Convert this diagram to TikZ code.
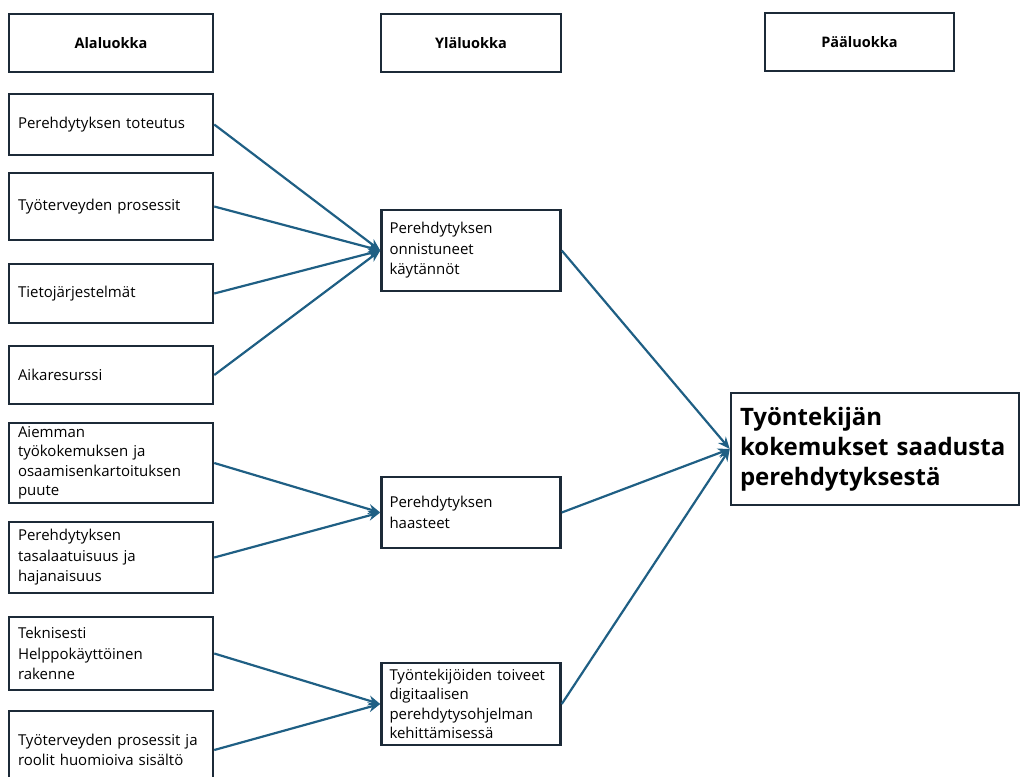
\documentclass[tikz,border=0pt]{standalone}
\usepackage{fontspec}
\setmainfont{Open Sans}
\usetikzlibrary{arrows.meta}
\definecolor{boxline}{HTML}{1C2A38}
\definecolor{linkblue}{HTML}{1F5F84}

\begin{document}
\begin{tikzpicture}[x=1pt,y=-1pt]
        \tikzset{class box/.style={draw=boxline,line width=2.5pt,fill=white,minimum height=#1,inner xsep=9pt,inner ysep=1pt,align=left,font=\fontsize{15}{20.5}\selectfont},
                 sub box/.style={class box=#1,text width=186pt},
                 upper box/.style={class box=#1,text width=163pt,inner xsep=8pt},
                 head box/.style={draw=boxline,line width=2.5pt,minimum height=58pt,align=center,font=\fontsize{14.5}{16}\selectfont\bfseries},
                 link/.style={draw=linkblue,line width=2.2pt,-{Stealth[length=12pt,width=10pt]}}}

        \useasboundingbox (0,0) rectangle (1021,777);

        % otsikot
        \node[head box,minimum width=204pt] (ala) at (111,43) {Alaluokka};
        \node[head box,minimum width=180pt] (yla) at (471,43) {Yläluokka};
        \node[head box,minimum width=189pt] (paa) at (859.5,42) {Pääluokka};

        % alaluokat
        \node[sub box=61pt] (toteutus) at (111,124.5) {Perehdytyksen toteutus};
        \node[sub box=67pt] (prosessit) at (111,206.5) {Työterveyden prosessit};
        \node[sub box=59pt] (tieto) at (111,293.5) {Tietojärjestelmät};
        \node[sub box=58pt] (aika) at (111,375) {Aikaresurssi};
        \node[sub box=80pt,font=\fontsize{15}{19.5}\selectfont] (aiemman) at (111,463) {Aiemman\\ työkokemuksen ja\\ osaamisenkartoituksen\\ puute};
        \node[sub box=71pt] (tasalaatu) at (111,557.5) {Perehdytyksen\\ tasalaatuisuus ja\\ hajanaisuus};
        \node[sub box=73pt] (tekninen) at (111,653.5) {Teknisesti\\ Helppokäyttöinen\\ rakenne};
        \node[sub box=78pt] (roolit) at (111,750) {Työterveyden prosessit ja\\ roolit huomioiva sisältö};

        % yläluokat
        \node[upper box=81pt] (onnistuneet) at (471,250.5) {Perehdytyksen\\ onnistuneet\\ käytännöt};
        \node[upper box=71pt] (haasteet) at (471,512.5) {Perehdytyksen\\ haasteet};
        \node[upper box=82pt,font=\fontsize{15}{19.5}\selectfont] (toiveet) at (471,704) {Työntekijöiden toiveet\\ digitaalisen\\ perehdytysohjelman\\ kehittämisessä};

        % pääluokka
        \node[class box=112pt,text width=270pt,inner xsep=9pt,font=\fontsize{24}{30}\selectfont\bfseries] (kokemukset) at (875,449) {Työntekijän\\ kokemukset saadusta\\ perehdytyksestä};

        \foreach \from in {toteutus,prosessit,tieto,aika}
            \draw[link] (\from.east) -- (onnistuneet.west);
        \foreach \from in {aiemman,tasalaatu}
            \draw[link] (\from.east) -- (haasteet.west);
        \foreach \from in {tekninen,roolit}
            \draw[link] (\from.east) -- (toiveet.west);
        \foreach \from in {onnistuneet,haasteet,toiveet}
            \draw[link] (\from.east) -- (kokemukset.west);
    \end{tikzpicture}
\end{document}
